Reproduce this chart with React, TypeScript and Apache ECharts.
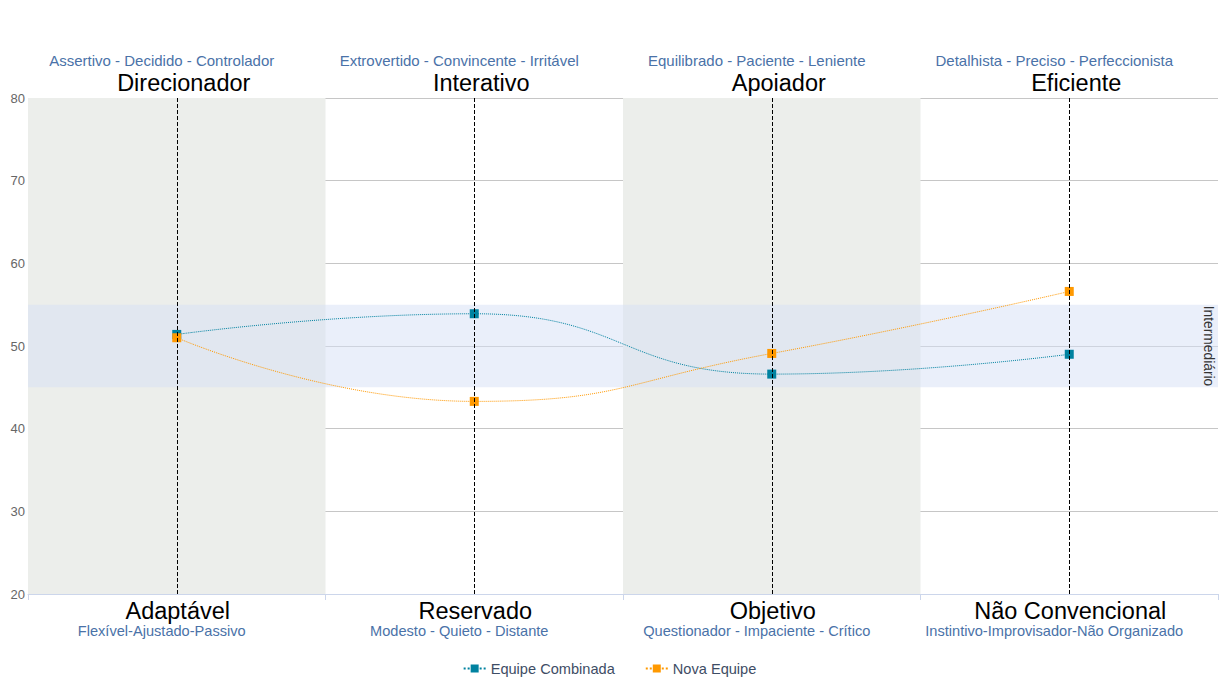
import React, { useEffect, useRef } from "react";
import * as echarts from "echarts";

const topNames = ["Direcionador", "Interativo", "Apoiador", "Eficiente"];
const topSubs = [
  "Assertivo - Decidido - Controlador",
  "Extrovertido - Convincente - Irritável",
  "Equilibrado - Paciente - Leniente",
  "Detalhista - Preciso - Perfeccionista",
];
const bottomNames = ["Adaptável", "Reservado", "Objetivo", "Não Convencional"];
const bottomSubs = [
  "Flexível-Ajustado-Passivo",
  "Modesto - Quieto - Distante",
  "Questionador - Impaciente - Crítico",
  "Instintivo-Improvisador-Não Organizado",
];
const combinada = [51.4, 53.9, 46.6, 49.0];
const novaEquipe = [51.0, 43.3, 49.1, 56.6];
const bandRange = [45, 55];
const bandLabel = "Intermediário";
const yTicks = { min: 20, max: 80, interval: 10 };

const FONT = "Liberation Sans, Arial, sans-serif";

export default function App() {
  const ref = useRef<HTMLDivElement>(null);
  useEffect(() => {
    const chart = echarts.init(ref.current!, null, { renderer: "svg" });
    chart.setOption({
      animation: false,
      textStyle: { fontFamily: FONT },
      grid: { left: 28, right: 1, top: 98, bottom: 100 },
      legend: {
        bottom: 13,
        left: "center",
        itemGap: 30,
        itemWidth: 22,
        itemHeight: 10,
        textStyle: { color: "#3e4d65", fontSize: 14.6, fontFamily: FONT },
        data: ["Equipe Combinada", "Nova Equipe"],
      },
      xAxis: [
        {
          type: "category",
          position: "bottom",
          data: bottomNames,
          boundaryGap: true,
          axisLine: { show: true, lineStyle: { color: "#ccd6eb", width: 1 } },
          axisTick: { show: true, length: 6, lineStyle: { color: "#ccd6eb" } },
          splitLine: { show: false },
          splitArea: { show: true, areaStyle: { color: ["#eceeeb", "rgba(255,255,255,0)"] } },
          axisLabel: {
            margin: 5,
            interval: 0,
            formatter: (v: string, i: number) => `{main|${v}}\n{sub|${bottomSubs[i]}}`,
            rich: {
              main: { fontSize: 23.5, color: "#000", fontFamily: FONT, lineHeight: 24, padding: [0, 0, 0, 2] },
              sub: { fontSize: 14.6, color: "#4a72a8", fontFamily: FONT, lineHeight: 16, padding: [0, 30, 0, 0] },
            },
          },
        },
        {
          type: "category",
          position: "top",
          data: topNames,
          boundaryGap: true,
          axisLine: { show: false },
          axisTick: { show: false },
          axisLabel: {
            margin: 3,
            interval: 0,
            formatter: (v: string, i: number) => `{sub|${topSubs[i]}}\n{main|${v}}`,
            rich: {
              main: { fontSize: 23.5, color: "#000", fontFamily: FONT, lineHeight: 24, padding: [0, 0, 0, 14] },
              sub: { fontSize: 15, color: "#4a72a8", fontFamily: FONT, lineHeight: 22, padding: [0, 30, 0, 0] },
            },
          },
        },
      ],
      yAxis: {
        type: "value",
        min: yTicks.min,
        max: yTicks.max,
        interval: yTicks.interval,
        axisLine: { show: false },
        axisTick: { show: false },
        axisLabel: { color: "#666", fontSize: 13, margin: 3, fontFamily: FONT },
        splitLine: { show: true, lineStyle: { color: "#c6c6c6", width: 1 } },
      },
      series: [
        {
          name: "Equipe Combinada",
          type: "line",
          data: combinada,
          smooth: 0.5,
          symbol: "rect",
          symbolSize: 9,
          z: 3,
          itemStyle: { color: "#0082a0" },
          lineStyle: { color: "#0082a0", width: 1, type: "dotted" },
          markArea: {
            silent: true,
            itemStyle: { color: "rgba(214,224,246,0.5)" },
            label: {
              show: true,
              position: "insideRight",
              rotate: -90,
              distance: 3,
              align: "center",
              verticalAlign: "top",
              color: "#333",
              fontSize: 13.8,
              fontFamily: FONT,
            },
            data: [[{ yAxis: bandRange[0], name: bandLabel }, { yAxis: bandRange[1] }]],
          },
          markLine: {
            silent: true,
            symbol: "none",
            label: { show: false },
            lineStyle: { color: "#000", type: "dashed", width: 1 },
            data: topNames.map((_, i) => ({ xAxis: i })),
          },
        },
        {
          name: "Nova Equipe",
          type: "line",
          data: novaEquipe,
          smooth: 0.5,
          symbol: "rect",
          symbolSize: 9,
          z: 4,
          itemStyle: { color: "#ff9900" },
          lineStyle: { color: "#ff9900", width: 1, type: "dotted" },
        },
      ],
    });
    return () => chart.dispose();
  }, []);
  return (
    <div
      ref={ref}
      style={{ position: "fixed", left: 0, top: 0, width: 1219, height: 694, background: "#fff" }}
    />
  );
}
